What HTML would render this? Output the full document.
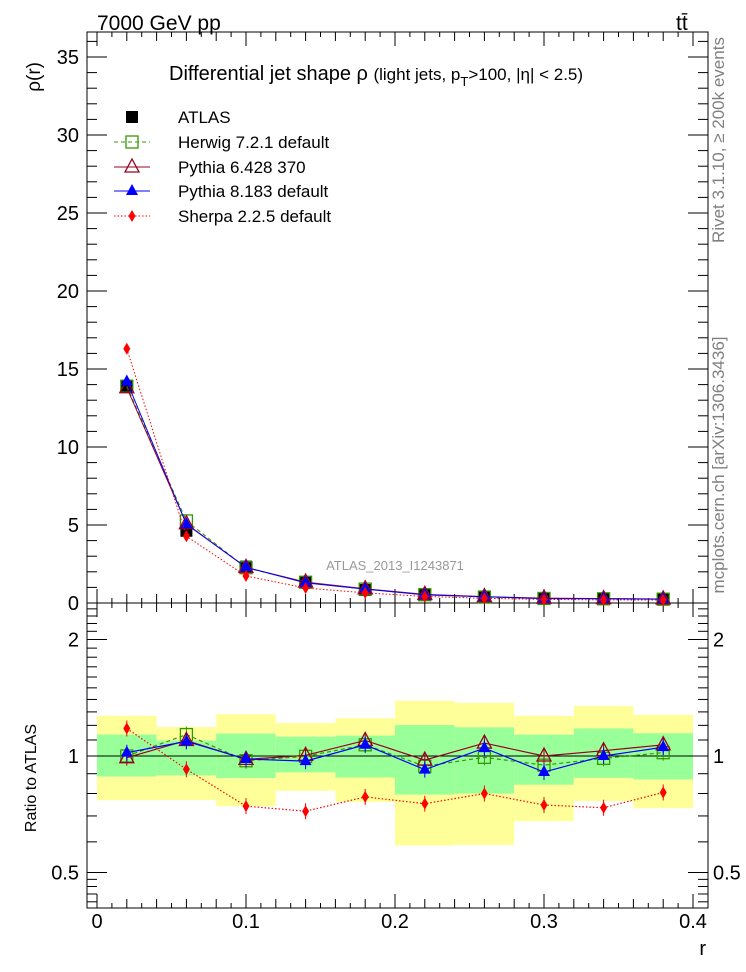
<!DOCTYPE html>
<html><head><meta charset="utf-8"><style>
body{margin:0;background:#fff;}
svg{display:block;font-family:"Liberation Sans",sans-serif;}
</style></head><body>
<svg id="c" width="746" height="972" viewBox="0 0 746 972">
<text x="97" y="30" font-size="21">7000 GeV pp</text>
<text x="676" y="30" font-size="21">tt̄</text>
<text transform="translate(724,140) rotate(-90)" text-anchor="middle" font-size="17" fill="#808080">Rivet 3.1.10, ≥ 200k events</text>
<text transform="translate(724,465) rotate(-90)" text-anchor="middle" font-size="17" fill="#808080">mcplots.cern.ch [arXiv:1306.3436]</text>
<text x="169" y="80" font-size="20">Differential jet shape  ρ <tspan font-size="17">(light jets, p</tspan><tspan font-size="13" dy="6">T</tspan><tspan font-size="17" dy="-6">&gt;100, |η| &lt; 2.5)</tspan></text>
<text transform="translate(40,62) rotate(-90)" text-anchor="end" font-size="19">ρ(r)</text>
<text transform="translate(36,778) rotate(-90)" text-anchor="middle" font-size="16">Ratio to ATLAS</text>
<text x="706" y="955" text-anchor="end" font-size="20">r</text>
<text x="395" y="570" text-anchor="middle" font-size="13" fill="#999">ATLAS_2013_I1243871</text>
<g id="main"></g><g id="ratio"></g><g id="legend"></g>
</svg>
<script>
const rBins=[0,0.04,0.08,0.12,0.16,0.2,0.24,0.28,0.32,0.36,0.4];
const rCenters=[0.02,0.06,0.1,0.14,0.18,0.22,0.26,0.3,0.34,0.38];
const atlas=[13.9,4.63,2.33,1.33,0.83,0.56,0.38,0.31,0.27,0.24];
const herwig=[13.9,5.26,2.26,1.33,0.89,0.53,0.38,0.29,0.27,0.245];
const pythia6=[13.8,5.08,2.28,1.34,0.91,0.55,0.41,0.31,0.28,0.26];
const pythia8=[14.2,5.05,2.29,1.29,0.89,0.52,0.40,0.28,0.27,0.25];
const sherpa=[16.3,4.28,1.73,0.96,0.65,0.42,0.30,0.23,0.20,0.19];
const herwigR=[1.0,1.136,0.972,0.998,1.069,0.941,0.992,0.947,0.986,1.02];
const pythia6R=[0.99,1.097,0.98,1.004,1.097,0.976,1.08,1.0,1.032,1.069];
const pythia8R=[1.02,1.091,0.982,0.97,1.069,0.922,1.048,0.909,1.0,1.054];
const sherpaR=[1.178,0.924,0.742,0.72,0.784,0.753,0.8,0.747,0.735,0.805];
const yellowHi=[1.27,1.188,1.283,1.217,1.252,1.389,1.372,1.27,1.347,1.278];
const yellowLo=[0.769,0.77,0.742,0.813,0.761,0.587,0.589,0.679,0.765,0.733];
const greenHi=[1.136,1.096,1.143,1.122,1.129,1.202,1.186,1.136,1.178,1.145];
const greenLo=[0.885,0.891,0.877,0.907,0.88,0.795,0.8,0.843,0.878,0.87];
const yTicks=[0,5,10,15,20,25,30,35];
const rTicks=[0.5,1,2];
const xTicks=[0,0.1,0.2,0.3,0.4];

const NS="http://www.w3.org/2000/svg";
const L=87,R=708,T=32,MB=603,RB=908;
const X=v=>97+1490*v;
const Y=v=>603-15.6*v;
const YR=v=>756-116.5*Math.log2(v);
function mk(p,tag,at){const e=document.createElementNS(NS,tag);for(const k in at)e.setAttribute(k,at[k]);p.appendChild(e);return e;}
const main=document.getElementById('main'),ratio=document.getElementById('ratio'),leg=document.getElementById('legend');

for(let i=0;i<rCenters.length;i++){
  let b=mk(ratio,'rect',{x:X(rBins[i]),y:YR(yellowHi[i]),width:X(rBins[i+1])-X(rBins[i]),height:YR(yellowLo[i])-YR(yellowHi[i]),fill:'#ffff99'});
  
  
  let g=mk(ratio,'rect',{x:X(rBins[i]),y:YR(greenHi[i]),width:X(rBins[i+1])-X(rBins[i]),height:YR(greenLo[i])-YR(greenHi[i]),fill:'#99ff99'});
  
  
}
mk(ratio,'line',{x1:L,x2:R,y1:YR(1),y2:YR(1),stroke:'#000','stroke-width':1});

for(const [t,b] of [[T,MB],[MB,RB]]){
  const f=mk(main,'rect',{x:L,y:t,width:R-L,height:b-t,fill:'none',stroke:'#000','stroke-width':1});
  
  
}
for(let v=0;v<=0.4001;v+=0.01){
  const maj=Math.abs(v*10-Math.round(v*10))<1e-6, mid=Math.abs(v*50-Math.round(v*50))<1e-6;
  const len=maj?14:(mid?9:5);
  for(const [t,b] of [[T,MB],[MB,RB]]){
    mk(main,'line',{x1:X(v),x2:X(v),y1:b,y2:b-len,stroke:'#000'});
    mk(main,'line',{x1:X(v),x2:X(v),y1:t,y2:t+len,stroke:'#000'});
  }
}
xTicks.forEach(v=>{const t=mk(main,'text',{x:X(v),y:928,'text-anchor':'middle','font-size':20});t.textContent=v;
  
  });
for(let v=0;v<=36;v++){
  const len=v%5==0?20:10;
  mk(main,'line',{x1:L,x2:L+len,y1:Y(v),y2:Y(v),stroke:'#000'});
  mk(main,'line',{x1:R,x2:R-len,y1:Y(v),y2:Y(v),stroke:'#000'});
}
yTicks.forEach(v=>{const t=mk(main,'text',{x:79,y:Y(v)+7,'text-anchor':'end','font-size':20});t.textContent=v;
  
  });
for(let v=0.5;v<=2.5;v+=0.1){
  const yy=YR(v);if(yy<MB||yy>RB)continue;
  const maj=[0.5,1,2].some(m=>Math.abs(m-v)<1e-6);const len=maj?20:10;
  mk(main,'line',{x1:L,x2:L+len,y1:yy,y2:yy,stroke:'#000'});
  mk(main,'line',{x1:R,x2:R-len,y1:yy,y2:yy,stroke:'#000'});
}
[0.42,0.44,0.46,0.48].forEach(v=>{const yy=YR(v);if(yy<RB){mk(main,'line',{x1:L,x2:L+10,y1:yy,y2:yy,stroke:'#000'});mk(main,'line',{x1:R,x2:R-10,y1:yy,y2:yy,stroke:'#000'});}});
rTicks.forEach(v=>{
  const t=mk(main,'text',{x:79,y:YR(v)+7,'text-anchor':'end','font-size':20});t.textContent=v;
  
  
  const t2=mk(main,'text',{x:713,y:YR(v)+7,'font-size':20});t2.textContent=v;
  
  
});

function marker(p,type,x,y,color){
  if(type=='sq') return mk(p,'rect',{x:x-6,y:y-6,width:12,height:12,fill:'#000'});
  if(type=='osq') return mk(p,'rect',{x:x-6,y:y-6,width:12,height:12,fill:'none',stroke:color,'stroke-width':1.3});
  if(type=='otri') return mk(p,'polygon',{points:`${x},${y-8} ${x-7},${y+5} ${x+7},${y+5}`,fill:'none',stroke:color,'stroke-width':1.3});
  if(type=='tri') return mk(p,'polygon',{points:`${x},${y-7} ${x-6},${y+4} ${x+6},${y+4}`,fill:color});
  return mk(p,'polygon',{points:`${x},${y-6} ${x-3.5},${y} ${x},${y+6} ${x+3.5},${y}`,fill:color});
}
const series=[
  {name:'herwig',vals:herwig,rat:herwigR,color:'#339900',dash:'4,3',m:'osq'},
  {name:'pythia6',vals:pythia6,rat:pythia6R,color:'#990022',dash:'',m:'otri'},
  {name:'pythia8',vals:pythia8,rat:pythia8R,color:'#0000ff',dash:'',m:'tri'},
  {name:'sherpa',vals:sherpa,rat:sherpaR,color:'#ff0000',dash:'1.5,2',m:'dia'}];
const clipR=mk(document.getElementById('c'),'clipPath',{id:'clipr'});mk(clipR,'rect',{x:L,y:MB,width:R-L,height:RB-MB});
atlas.forEach((v,i)=>{const m=marker(main,'sq',X(rCenters[i]),Y(v));
  
  });
series.forEach(s=>{
  const pm=mk(main,'polyline',{points:s.vals.map((v,i)=>X(rCenters[i])+','+Y(v)).join(' '),fill:'none',stroke:s.color,'stroke-width':1,'stroke-dasharray':s.dash});
  
  
  s.vals.forEach((v,i)=>{const m=marker(main,s.m,X(rCenters[i]),Y(v),s.color);
    
    });
  const pr=mk(ratio,'polyline',{points:s.rat.map((v,i)=>X(rCenters[i])+','+YR(v)).join(' '),fill:'none',stroke:s.color,'stroke-width':1.2,'stroke-dasharray':s.dash,'clip-path':'url(#clipr)'});
  
  
  s.rat.forEach((v,i)=>{
    mk(ratio,'line',{x1:X(rCenters[i]),x2:X(rCenters[i]),y1:YR(v)-8,y2:YR(v)+8,stroke:s.color});
    const m=marker(ratio,s.m,X(rCenters[i]),YR(v),s.color);
    
    });
});
const names=['ATLAS','Herwig 7.2.1 default','Pythia 6.428 370','Pythia 8.183 default','Sherpa 2.2.5 default'];
const ly=[117,142,167,191,216];
names.forEach((n,i)=>{
  const g=mk(leg,'g',{});
  
  
  if(i==0){marker(g,'sq',132,ly[i]);}
  else{const s=series[i-1];mk(g,'line',{x1:114,x2:150,y1:ly[i],y2:ly[i],stroke:s.color,'stroke-dasharray':s.dash});marker(g,s.m,132,ly[i],s.color);}
  const t=mk(g,'text',{x:178,y:ly[i]+6,'font-size':17});t.textContent=n;
});
</script>
</body></html>
